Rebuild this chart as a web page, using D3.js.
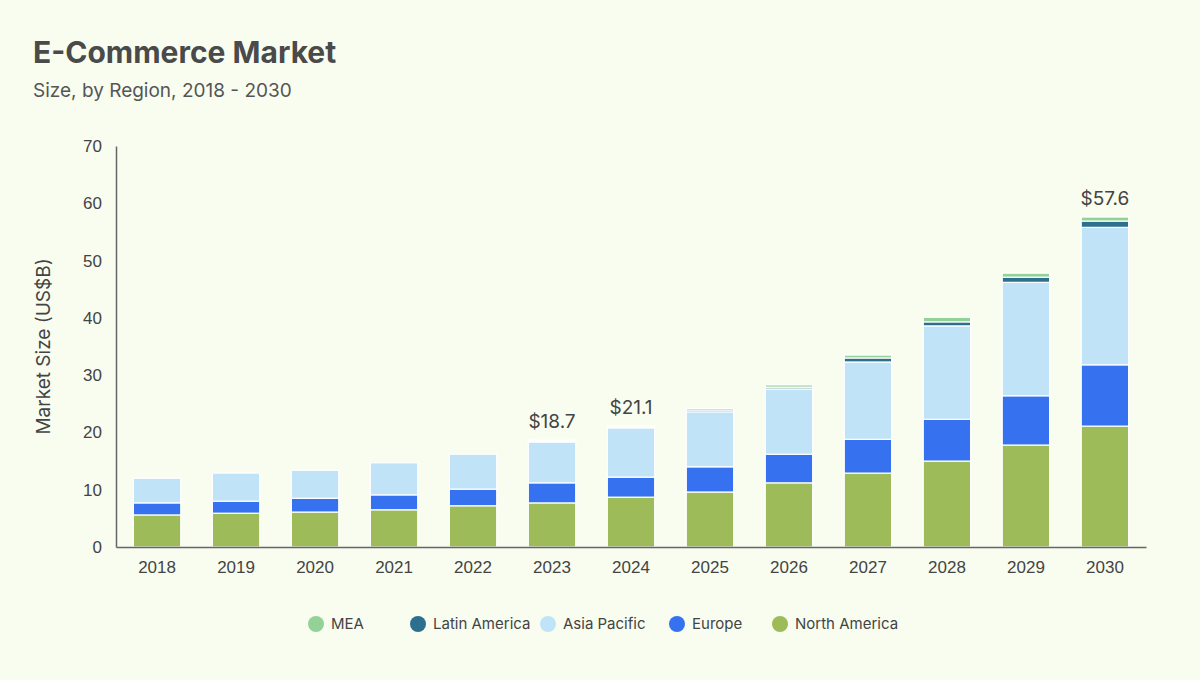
<!DOCTYPE html>
<html>
<head>
<meta charset="utf-8">
<script src="https://cdn.jsdelivr.net/npm/d3@7"></script>
<style>
  body { margin: 0; background: #f8fdf0; font-family: Inter, "Noto Sans", sans-serif; }
  svg text { fill: #444; }
</style>
</head>
<body>
<svg id="chart" width="1200" height="680"></svg>
<script>
// Data (US$B)
const years = ['2018', '2019', '2020', '2021', '2022', '2023', '2024', '2025', '2026', '2027', '2028', '2029', '2030'];
const northAmerica = [5.6, 5.9, 6.1, 6.5, 7.2, 7.7, 8.7, 9.6, 11.2, 12.9, 15.0, 17.8, 21.1];
const europe = [2.1, 2.1, 2.4, 2.6, 2.9, 3.5, 3.5, 4.4, 5.0, 5.9, 7.3, 8.6, 10.7];
const asiaPacific = [4.3, 4.9, 4.9, 5.6, 6.1, 7.1, 8.6, 9.6, 11.4, 13.5, 16.3, 19.8, 24.0];
const latinAmerica = [0, 0, 0, 0, 0, 0.2, 0.2, 0.3, 0.3, 0.7, 0.7, 0.9, 1.1];
const mea = [0, 0, 0, 0, 0, 0.2, 0.1, 0.3, 0.4, 0.5, 0.8, 0.7, 0.7];
const labelledYears = { '2023': '$18.7', '2024': '$21.1', '2030': '$57.6' };
const yTicks = [0, 10, 20, 30, 40, 50, 60, 70];

const series = [
    { key: 'North America', values: northAmerica, color: '#9dbb58' },
    { key: 'Europe', values: europe, color: '#3672f0' },
    { key: 'Asia Pacific', values: asiaPacific, color: '#c0e3f8' },
    { key: 'Latin America', values: latinAmerica, color: '#2d6f8f' },
    { key: 'MEA', values: mea, color: '#93d196' }
];

const rows = years.map((y, i) => {
    const r = { year: y };
    series.forEach(s => { r[s.key] = s.values[i]; });
    return r;
});

const svg = d3.select('#chart');
const margin = { left: 116, right: 54, top: 146, bottom: 133 };
const width = 1200 - margin.left - margin.right;
const height = 680 - margin.top - margin.bottom;

// Title
svg.append('text').attr('x', 33).attr('y', 63)
    .style('font-size', '30px').style('font-weight', '700').style('fill', '#4a4a4a')
    .text('E-Commerce Market');
svg.append('text').attr('x', 33).attr('y', 97)
    .style('font-size', '19px').style('fill', '#555')
    .text('Size, by Region, 2018 - 2030');

const g = svg.append('g').attr('transform', `translate(${margin.left},${margin.top})`);

const x = d3.scaleBand().domain(years).range([0, width]).paddingInner(0.4).paddingOuter(0.22);
const y = d3.scaleLinear().domain([0, 70]).range([height, 0]);

const stack = d3.stack().keys(series.map(s => s.key));
const stacked = stack(rows);

g.selectAll('.layer')
    .data(stacked)
    .enter().append('g')
    .attr('fill', (d, i) => series[i].color)
    .selectAll('rect')
    .data(d => d.filter(p => p[1] - p[0] > 0))
    .enter().append('rect')
    .attr('x', d => x(d.data.year))
    .attr('width', x.bandwidth())
    .attr('y', d => y(d[1]))
    .attr('height', d => y(d[0]) - y(d[1]))
    .attr('stroke', '#ffffff')
    .attr('stroke-width', 1.2);

// Total labels
g.selectAll('.total')
    .data(rows.filter(r => labelledYears[r.year]))
    .enter().append('text')
    .attr('x', d => x(d.year) + x.bandwidth() / 2)
    .attr('y', d => y(d3.sum(series, s => d[s.key])) - 12)
    .attr('text-anchor', 'middle')
    .style('font-size', '19px')
    .text(d => labelledYears[d.year]);

// Axes
const yAxis = g.append('g').call(d3.axisLeft(y).tickValues(yTicks).tickSize(0).tickPadding(14));
yAxis.select('.domain').attr('stroke', '#666').attr('stroke-width', 1.5);
yAxis.selectAll('text').style('font-size', '17px').style('fill', '#444');

const xAxis = g.append('g').attr('transform', `translate(0,${height})`)
    .call(d3.axisBottom(x).tickSize(0).tickPadding(14));
xAxis.select('.domain').attr('stroke', '#666').attr('stroke-width', 1.5);
xAxis.selectAll('text').style('font-size', '17px').style('fill', '#444');

svg.append('text')
    .attr('transform', `translate(50,${margin.top + height / 2}) rotate(-90)`)
    .attr('text-anchor', 'middle')
    .style('font-size', '19px')
    .text('Market Size (US$B)');

// Legend
const legendOrder = ['MEA', 'Latin America', 'Asia Pacific', 'Europe', 'North America'];
const legendX = [316, 418, 548, 677, 780];
const legend = svg.append('g').attr('transform', 'translate(0,624)');
legendOrder.forEach((k, i) => {
    const s = series.find(d => d.key === k);
    const item = legend.append('g').attr('transform', `translate(${legendX[i]},0)`);
    item.append('circle').attr('r', 8).attr('fill', s.color);
    item.append('text').attr('x', 15).attr('dy', '0.35em')
        .style('font-size', '15px').text(k);
});
</script>
</body>
</html>
